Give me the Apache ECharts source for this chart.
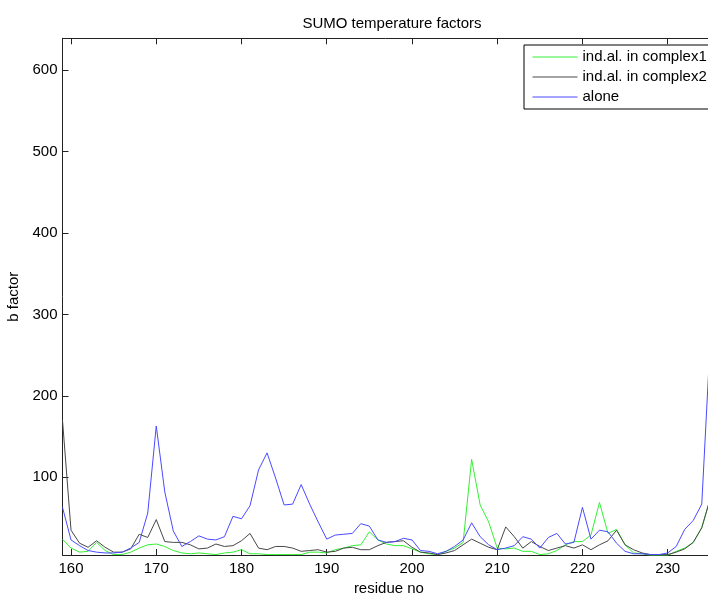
<!DOCTYPE html>
<html>
<head>
<meta charset="utf-8">
<script src="https://cdn.jsdelivr.net/npm/echarts@6/dist/echarts.min.js"></script>
<style>
html,body{margin:0;padding:0;background:#fff;}
#chart{width:708px;height:593px;}
</style>
</head>
<body>
<div id="chart"></div>
<script>
// residue numbers 159..235
var residues = [159,160,161,162,163,164,165,166,167,168,169,170,171,172,173,174,175,176,177,178,179,180,181,182,183,184,185,186,187,188,189,190,191,192,193,194,195,196,197,198,199,200,201,202,203,204,205,206,207,208,209,210,211,212,213,214,215,216,217,218,219,220,221,222,223,224,225,226,227,228,229,230,231,232,233,234,235];

var complex1 = [24,13,8,9,20,10,5,5,8,13,
  17,18,15,10,7,6,7,6,5,7,
  8,11,6,6,5,5,5,5,5,8,
  8,7,11,13,16,17,33,23,18,16,
  16,12,8,6,5,9,13,20,122,66,
  45,13,12,13,9,9,5,6,10,17,
  21,21,29,69,31,36,17,7,6,4,
  4,4,9,13,20,38,74];

var complex2 = [170,35,19,14,22,14,8,8,12,30,
  26,48,21,20,20,17,12,13,18,15,
  16,22,31,13,11,15,15,13,9,10,
  11,8,9,13,14,11,11,16,20,21,
  22,14,8,7,5,7,10,17,24,19,
  14,11,39,27,13,21,15,10,13,16,
  13,17,11,17,22,35,17,11,7,5,
  5,5,8,12,20,38,74];

var alone = [63,23,16,10,8,7,7,8,13,20,
  56,163,82,34,15,21,28,24,23,27,
  52,49,65,109,130,99,66,67,91,67,
  45,24,29,30,31,43,40,23,20,21,
  25,23,10,9,6,9,15,23,44,27,
  17,11,13,16,27,24,13,26,31,18,
  20,63,24,35,33,19,9,6,6,5,
  5,7,15,36,47,67,270];

var xTicks = [160,170,180,190,200,210,220,230];
var yTicks = [100,200,300,400,500,600];
var seriesNames = ['ind.al. in complex1','ind.al. in complex2','alone'];

function pairs(vals){ return residues.map(function(r,i){ return [r, vals[i]]; }); }

var FONT = "'Liberation Sans', Arial, sans-serif";
var chart = echarts.init(document.getElementById('chart'), null, {renderer:'canvas'});

chart.setOption({
  animation:false,
  backgroundColor:'#fff',
  title:{
    text:'SUMO temperature factors',
    left:387, top:11, textAlign:'center',
    textStyle:{fontFamily:FONT, fontSize:15, fontWeight:'normal', color:'#000'}
  },
  legend:{
    orient:'vertical', left:524, top:45,
    padding:[4.5,10,4.5,8], itemGap:5, itemWidth:45, itemHeight:15,
    itemStyle:{opacity:0},
    lineStyle:{width:1},
    borderColor:'#000', borderWidth:1, borderRadius:0, backgroundColor:'#fff',
    textStyle:{fontFamily:FONT, fontSize:15, lineHeight:15, color:'#000'},
    data:seriesNames
  },
  grid:{left:62.5, top:38.3, width:647.8, height:516.7, outerBoundsMode:'none', containLabel:false},
  xAxis:[{
    type:'value', min:159, max:235, position:'bottom',
    name:'residue no', nameLocation:'middle', nameGap:25,
    nameTextStyle:{fontFamily:FONT, fontSize:15, color:'#000', padding:[0,0,0,5]},
    axisLine:{show:true, onZero:false, lineStyle:{color:'#222', width:1}},
    axisTick:{show:true, inside:true, length:6, customValues:xTicks, lineStyle:{color:'#222'}},
    axisLabel:{customValues:xTicks, margin:6, fontFamily:FONT, fontSize:15, color:'#000'},
    splitLine:{show:false}
  },{
    type:'value', min:159, max:235, position:'top',
    axisLine:{show:true, onZero:false, lineStyle:{color:'#222', width:1}},
    axisTick:{show:true, inside:true, length:6, customValues:xTicks, lineStyle:{color:'#222'}},
    axisLabel:{show:false},
    splitLine:{show:false}
  }],
  yAxis:[{
    type:'value', min:4.5, max:639.3,
    name:'b factor', nameLocation:'middle', nameGap:41,
    nameTextStyle:{fontFamily:FONT, fontSize:15, color:'#000'},
    axisLine:{show:true, onZero:false, lineStyle:{color:'#222', width:1}},
    axisTick:{show:true, inside:true, length:6, customValues:yTicks, lineStyle:{color:'#222'}},
    axisLabel:{customValues:yTicks, margin:5, fontFamily:FONT, fontSize:15, color:'#000'},
    splitLine:{show:false}
  }],
  series:[{
    name:seriesNames[0], type:'line', data:pairs(complex1), symbol:'none',
    color:'#33f033', lineStyle:{width:1, color:'#33f033'}, z:2
  },{
    name:seriesNames[1], type:'line', data:pairs(complex2), symbol:'none',
    color:'#484848', lineStyle:{width:1, color:'#484848'}, z:3
  },{
    name:seriesNames[2], type:'line', data:pairs(alone), symbol:'none',
    color:'#4a4aff', lineStyle:{width:1, color:'#4a4aff'}, z:4
  }]
});
</script>
</body>
</html>
